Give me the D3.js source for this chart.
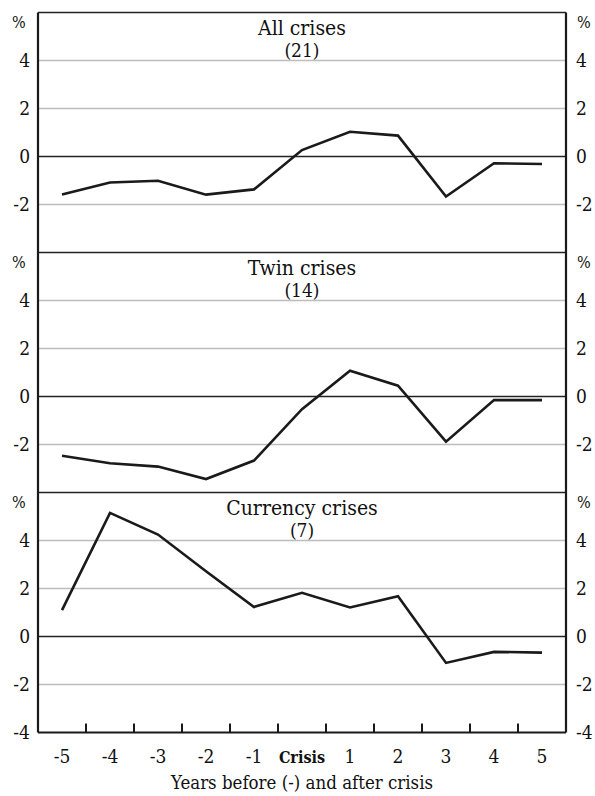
<!DOCTYPE html>
<html>
<head>
<meta charset="utf-8">
<script src="https://cdn.jsdelivr.net/npm/d3@7"></script>
<style>
  body { margin: 0; background: #fff; }
</style>
</head>
<body>
<script>
// categories along the x axis
var years = ["-5", "-4", "-3", "-2", "-1", "Crisis", "1", "2", "3", "4", "5"];

// one series per panel (per cent)
var allCrises = [-1.58, -1.08, -1.01, -1.59, -1.37, 0.27, 1.03, 0.87, -1.67, -0.28, -0.31];
var twinCrises = [-2.47, -2.78, -2.92, -3.44, -2.67, -0.53, 1.07, 0.45, -1.88, -0.15, -0.15];
var currencyCrises = [1.10, 5.15, 4.25, 2.72, 1.23, 1.82, 1.21, 1.68, -1.10, -0.64, -0.67];

var panelTitles = ["All crises", "Twin crises", "Currency crises"];
var panelCounts = ["(21)", "(14)", "(7)"];
var yTicks = [4, 2, 0, -2, -4];
var gridValues = [4, 2, -2];

var series = [allCrises, twinCrises, currencyCrises];

var W = 595, H = 796;
var left = 38, right = 566, top0 = 12.5, panelH = 240;
var serif = "'DejaVu Serif Condensed', 'DejaVu Serif', serif";

var svg = d3.select("body").append("svg")
    .attr("width", W)
    .attr("height", H)
    .style("font-family", serif)
    .style("font-stretch", "condensed");

var x = d3.scaleBand()
    .domain(years)
    .range([left, right]);

var line = d3.line()
    .x(function(d, i) { return x(years[i]) + x.bandwidth() / 2; });

series.forEach(function(values, p) {
  var top = top0 + p * panelH;
  var y = d3.scaleLinear().domain([-4, 6]).range([top + panelH, top]);
  var g = svg.append("g").attr("class", "panel");

  // grid
  g.selectAll("line.grid")
      .data(gridValues)
    .enter().append("line")
      .attr("class", "grid")
      .attr("x1", left).attr("x2", right)
      .attr("y1", function(d) { return y(d); })
      .attr("y2", function(d) { return y(d); })
      .attr("stroke", "#bdbdbd")
      .attr("stroke-width", 1.3);

  // zero line
  g.append("line")
      .attr("x1", left).attr("x2", right)
      .attr("y1", y(0)).attr("y2", y(0))
      .attr("stroke", "#222")
      .attr("stroke-width", 1.4);

  // top border of panel
  g.append("line")
      .attr("x1", left).attr("x2", right)
      .attr("y1", y(6)).attr("y2", y(6))
      .attr("stroke", "#222")
      .attr("stroke-width", 1.6);

  // tick labels both sides
  var labels = p === 2 ? yTicks : yTicks.slice(0, 4);
  g.selectAll("text.yl")
      .data(labels)
    .enter().append("text")
      .attr("class", "yl")
      .attr("x", 30)
      .attr("y", function(d) { return y(d); })
      .attr("dy", "0.36em")
      .attr("text-anchor", "end")
      .attr("fill", "#111")
      .style("font-size", "19px")
      .text(function(d) { return d; });
  g.selectAll("text.yr")
      .data(labels)
    .enter().append("text")
      .attr("class", "yr")
      .attr("x", 576)
      .attr("y", function(d) { return y(d); })
      .attr("dy", "0.36em")
      .attr("fill", "#111")
      .style("font-size", "19px")
      .text(function(d) { return d; });

  g.append("text")
      .attr("x", 12).attr("y", top + 15)
      .attr("fill", "#111")
      .style("font-size", "16px")
      .text("%");
  g.append("text")
      .attr("x", 577).attr("y", top + 15)
      .attr("fill", "#111")
      .style("font-size", "16px")
      .text("%");

  // title
  g.append("text")
      .attr("x", (left + right) / 2).attr("y", top + 22)
      .attr("text-anchor", "middle")
      .attr("fill", "#111")
      .style("font-size", "21px")
      .text(panelTitles[p]);
  g.append("text")
      .attr("x", (left + right) / 2).attr("y", top + 44)
      .attr("text-anchor", "middle")
      .attr("fill", "#111")
      .style("font-size", "19px")
      .text(panelCounts[p]);

  // series line
  line.y(function(d) { return y(d); });
  g.append("path")
      .datum(values)
      .attr("d", line)
      .attr("fill", "none")
      .attr("stroke", "#1a1a1a")
      .attr("stroke-width", 2.6)
      .attr("stroke-linejoin", "miter");
});

var bottom = top0 + 3 * panelH;

// outer frame sides
svg.append("line")
    .attr("x1", left).attr("x2", left)
    .attr("y1", top0).attr("y2", bottom)
    .attr("stroke", "#1a1a1a").attr("stroke-width", 2.2);
svg.append("line")
    .attr("x1", right).attr("x2", right)
    .attr("y1", top0).attr("y2", bottom)
    .attr("stroke", "#1a1a1a").attr("stroke-width", 2.2);

// x axis with ticks at band boundaries
var xAxis = svg.append("g")
    .attr("transform", "translate(0," + bottom + ")");
xAxis.append("line")
    .attr("x1", left).attr("x2", right)
    .attr("stroke", "#1a1a1a").attr("stroke-width", 2);
xAxis.selectAll("line.tick")
    .data(years.slice(1))
  .enter().append("line")
    .attr("class", "tick")
    .attr("x1", function(d) { return x(d); })
    .attr("x2", function(d) { return x(d); })
    .attr("y1", 0).attr("y2", -9)
    .attr("stroke", "#1a1a1a").attr("stroke-width", 2);
xAxis.selectAll("text")
    .data(years)
  .enter().append("text")
    .attr("x", function(d) { return x(d) + x.bandwidth() / 2; })
    .attr("y", 30)
    .attr("text-anchor", "middle")
    .attr("fill", "#111")
    .style("font-size", d => d === "Crisis" ? "16px" : "19px")
    .style("font-weight", d => d === "Crisis" ? "bold" : "normal")
    .text(function(d) { return d; });

svg.append("text")
    .attr("x", (left + right) / 2)
    .attr("y", 789)
    .attr("text-anchor", "middle")
    .attr("fill", "#111")
    .style("font-size", "18.5px")
    .text("Years before (-) and after crisis");
</script>
</body>
</html>
